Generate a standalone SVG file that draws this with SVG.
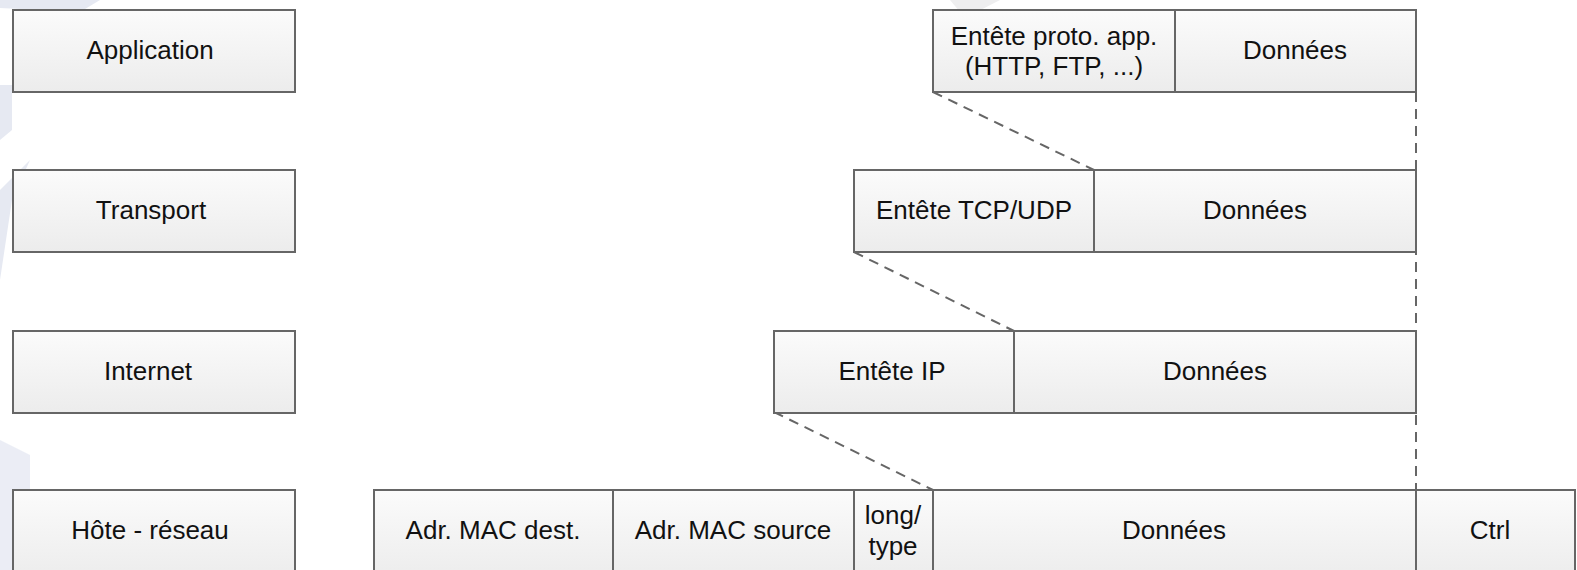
<svg xmlns="http://www.w3.org/2000/svg" width="1577" height="570" viewBox="0 0 1577 570">
<defs>
<linearGradient id="g" x1="0" y1="0" x2="0" y2="1">
<stop offset="0" stop-color="#fbfbfb"/>
<stop offset="1" stop-color="#ececec"/>
</linearGradient>
<style>
.b{fill:url(#g);stroke:#666;stroke-width:2}
.t{font-family:"Liberation Sans",Arial,sans-serif;font-size:26px;fill:#111;text-anchor:middle;dominant-baseline:central}
.d{fill:none;stroke:#666;stroke-width:2;stroke-dasharray:10,7}
.w{fill:#e6e9f2}
</style>
</defs>
<rect width="1577" height="570" fill="#fff"/>
<g id="watermark">
<polygon class="w" points="0,0 100,0 80,12 0,8"/>
<polygon class="w" points="0,85 12,85 12,130 0,140"/>
<polygon class="w" points="0,280 12,200 30,160 0,190"/>
<polygon class="w" points="0,440 30,455 30,570 0,570" opacity="0.8"/>
<polygon points="950,0 1000,0 965,18" fill="#eeeeef"/>
</g>
<g id="connectors">
<line class="d" x1="933" y1="92" x2="1094" y2="170"/>
<line class="d" x1="854" y1="252" x2="1014" y2="331"/>
<line class="d" x1="774" y1="412" x2="933" y2="490"/>
<line class="d" x1="1416" y1="92" x2="1416" y2="490"/>
</g>
<g id="layer-application"><rect class="b" x="13" y="10" width="282" height="82"/><text class="t" x="150" y="50">Application</text></g>
<g id="layer-transport"><rect class="b" x="13" y="170" width="282" height="82"/><text class="t" x="151" y="210">Transport</text></g>
<g id="layer-internet"><rect class="b" x="13" y="331" width="282" height="82"/><text class="t" x="148" y="371">Internet</text></g>
<g id="layer-hote"><rect class="b" x="13" y="490" width="282" height="90"/><text class="t" x="150" y="530">Hôte - réseau</text></g>
<g id="app-header"><rect class="b" x="933" y="10" width="242" height="82"/><text class="t" x="1054" y="36">Entête proto. app.</text><text class="t" x="1054" y="66">(HTTP, FTP, ...)</text></g>
<g id="app-data"><rect class="b" x="1175" y="10" width="241" height="82"/><text class="t" x="1295" y="50">Données</text></g>
<g id="tcp-header"><rect class="b" x="854" y="170" width="240" height="82"/><text class="t" x="974" y="210">Entête TCP/UDP</text></g>
<g id="tcp-data"><rect class="b" x="1094" y="170" width="322" height="82"/><text class="t" x="1255" y="210">Données</text></g>
<g id="ip-header"><rect class="b" x="774" y="331" width="240" height="82"/><text class="t" x="892" y="371">Entête IP</text></g>
<g id="ip-data"><rect class="b" x="1014" y="331" width="402" height="82"/><text class="t" x="1215" y="371">Données</text></g>
<g id="mac-dest"><rect class="b" x="374" y="490" width="239" height="90"/><text class="t" x="493" y="530">Adr. MAC dest.</text></g>
<g id="mac-src"><rect class="b" x="613" y="490" width="241" height="90"/><text class="t" x="733" y="530">Adr. MAC source</text></g>
<g id="len-type"><rect class="b" x="854" y="490" width="79" height="90"/><text class="t" x="893" y="515">long/</text><text class="t" x="893" y="546">type</text></g>
<g id="eth-data"><rect class="b" x="933" y="490" width="483" height="90"/><text class="t" x="1174" y="530">Données</text></g>
<g id="ctrl"><rect class="b" x="1416" y="490" width="159" height="90"/><text class="t" x="1490" y="530">Ctrl</text></g>
</svg>
